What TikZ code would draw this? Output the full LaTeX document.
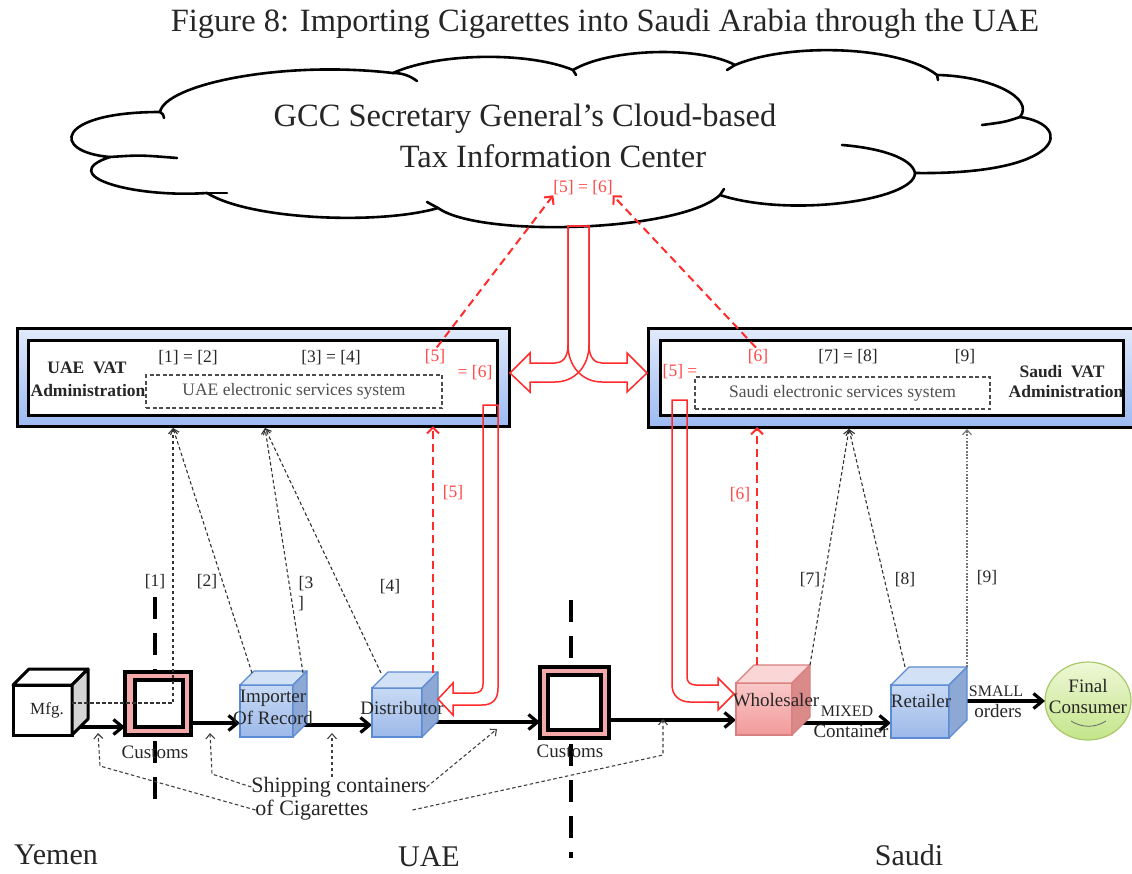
\documentclass[tikz,border=0pt]{standalone}
\usepackage{fontspec}
\setmainfont{Liberation Serif}
\usetikzlibrary{arrows.meta,shapes.geometric}

\definecolor{inktext}{HTML}{262626}
\definecolor{systext}{HTML}{505050}
\definecolor{vatred}{HTML}{FF2B2B}
\definecolor{vatredtext}{HTML}{FF4848}
\definecolor{paneltop}{HTML}{E1EAFB}
\definecolor{panelbottom}{HTML}{9CBAF2}
\definecolor{customspink}{HTML}{F3A9A9}
\definecolor{bluefronttop}{HTML}{C8DAF4}
\definecolor{bluefrontbottom}{HTML}{9DB9EA}
\definecolor{bluetop}{HTML}{D3E1F7}
\definecolor{blueside}{HTML}{8EA8D6}
\definecolor{blueedge}{HTML}{5B8BD2}
\definecolor{pinkfronttop}{HTML}{FAC8C8}
\definecolor{pinkfrontbottom}{HTML}{F19A9A}
\definecolor{pinktop}{HTML}{FBD6D6}
\definecolor{pinkside}{HTML}{DB8A8A}
\definecolor{pinkedge}{HTML}{D98080}
\definecolor{greentop}{HTML}{EEF8D6}
\definecolor{greenbottom}{HTML}{C4E58A}
\definecolor{greenedge}{HTML}{A9C96A}
\definecolor{mfgside}{HTML}{D4D4D4}

\newcommand\titlesize{\fontsize{32.5}{36}\selectfont}
\newcommand\bracketsize{\fontsize{17.5}{19}\selectfont}
\newcommand\systemsize{\fontsize{17.5}{20}\selectfont}
\newcommand\adminsize{\fontsize{17.5}{19}\selectfont\bfseries}
\newcommand\cubesize{\fontsize{19}{21}\selectfont}
\newcommand\capsize{\fontsize{16}{18}\selectfont}
\newcommand\shipsize{\fontsize{22}{25}\selectfont}
\newcommand\countrysize{\fontsize{30}{34}\selectfont}

% top and side faces of a box-shaped node (front face = the node)
\newcommand\cubefaces[5]{%
  \filldraw[#5,fill=#3] (#1.north west) -- ([shift={(#2,-#2)}]#1.north west)
    -- ([shift={(#2,-#2)}]#1.north east) -- (#1.north east) -- cycle;
  \filldraw[#5,fill=#4] (#1.north east) -- ([shift={(#2,-#2)}]#1.north east)
    -- ([shift={(#2,-#2)}]#1.south east) -- (#1.south east) -- cycle;}

\begin{document}
\begin{tikzpicture}[x=1pt,y=-1pt,
  every node/.style={inner sep=0pt,outer sep=0pt},
  lbl/.style={font=\bracketsize,text=inktext},
  redlbl/.style={font=\bracketsize,text=vatredtext},
  panel/.style={rectangle,draw=black,line width=3pt,top color=paneltop,bottom color=panelbottom},
  panelin/.style={rectangle,draw=black,line width=3pt,fill=white},
  sysbox/.style={rectangle,draw=black!70,dash pattern=on 4pt off 2.5pt,line width=1.1pt,font=\systemsize,text=systext},
  adminname/.style={font=\adminsize,text=black!85},
  bluecube/.style={rectangle,draw=blueedge,line width=1.2pt,top color=bluefronttop,bottom color=bluefrontbottom},
  bluefaces/.style={draw=blueedge,line width=1.2pt,line join=round},
  pinkcube/.style={rectangle,draw=pinkedge,line width=1.2pt,top color=pinkfronttop,bottom color=pinkfrontbottom},
  pinkfaces/.style={draw=pinkedge,line width=1.2pt,line join=round},
  mfgcube/.style={rectangle,draw=black,line width=3pt,fill=white},
  mfgfaces/.style={draw=black,line width=3pt,line join=round},
  customsouter/.style={rectangle,draw=black,line width=3.2pt,fill=customspink},
  customsinner/.style={rectangle,draw=black,line width=3.2pt,fill=white},
  cubelbl/.style={font=\cubesize,text=inktext},
  flow/.style={draw=black,line width=3.2pt,-{Straight Barb[length=9pt,width=15pt]}},
  infolink/.style={draw=black!80,line width=1.1pt,dash pattern=on 3.5pt off 2.5pt,-{Straight Barb[length=5pt,width=9pt]}},
  reportlink/.style={draw=vatred,line width=2pt,dash pattern=on 8pt off 5pt,-{Straight Barb[length=6pt,width=12pt]}},
  shiplink/.style={draw=black!75,line width=1.1pt,dash pattern=on 3.5pt off 2.5pt,-{Straight Barb[length=5pt,width=9pt]}},
  border/.style={draw=black,line width=3.8pt,dash pattern=on 22pt off 14pt},
  hollow/.style={draw=vatred,line width=1.5pt,line join=miter},
  cloudline/.style={draw=black,line width=2.6pt,line cap=round,line join=round}]

\useasboundingbox (0,0) rectangle (1132,873);
\clip (0,0) rectangle (1132,873);

% ---------- title ----------
\node[font=\titlesize,text=inktext] (title) at (605,24)
  {Figure 8: Importing Cigarettes into Saudi Arabia through the UAE};

% ---------- cloud ----------
\draw[cloudline,fill=white] (160,112)
  .. controls (165,85) and (280,60) .. (393,73)
  .. controls (440,52) and (530,52) .. (573,70)
  .. controls (610,48) and (700,46) .. (735,65)
  .. controls (790,42) and (900,46) .. (937,75)
  .. controls (990,76) and (1035,98) .. (1020,117)
  .. controls (1075,125) and (1065,175) .. (915,173)
  .. controls (915,200) and (790,218) .. (720,195)
  .. controls (680,232) and (480,238) .. (438,208)
  .. controls (380,225) and (250,220) .. (207,193)
  .. controls (130,198) and (55,175) .. (110,157)
  .. controls (50,152) and (55,112) .. (160,112) -- cycle;
\draw[cloudline] (393,73) .. controls (403,73) and (410,76) .. (417,81);
\draw[cloudline] (573,70) -- (576,75);
\draw[cloudline] (735,65) -- (727,70);
\draw[cloudline] (937,75) -- (938,80);
\draw[cloudline] (1020,117) .. controls (1005,122) .. (982,125);
\draw[cloudline] (915,173) .. controls (912,158) and (880,148) .. (842,145);
\draw[cloudline] (720,195) -- (724,189);
\draw[cloudline] (438,208) -- (427,202);
\draw[cloudline] (207,193) .. controls (212,193) .. (227,193);
\draw[cloudline] (110,157) .. controls (140,155) .. (177,158);
\draw[cloudline] (160,112) .. controls (163,114) .. (164,118);

\node[font=\titlesize,text=inktext] (gccA) at (525,119) {GCC Secretary General’s Cloud-based};
\node[font=\titlesize,text=inktext] (gccB) at (553,156) {Tax Information Center};
\node[redlbl] (shared) at (583,188) {[5] = [6]};

% ---------- VAT administrations ----------
\node[panel,minimum width=492,minimum height=98] (uaePanel) at (263,377) {};
\node[panelin,minimum width=469,minimum height=75] (uaeInner) at (262.5,377.5) {};
\node[panel,minimum width=502,minimum height=99] (saPanel) at (899,377.5) {};
\node[panelin,minimum width=463,minimum height=75] (saInner) at (891.5,377.5) {};

\node[adminname] (uaeNameA) at (87,368) {UAE\ \ VAT};
\node[adminname] (uaeNameB) at (88,391) {Administration};
\node[sysbox,minimum width=296,minimum height=33] (uaeSys) at (294,391.5) {UAE electronic services system};
\node[lbl] (l12) at (188,358) {[1] = [2]};
\node[lbl] (l34) at (331,358) {[3] = [4]};
\node[redlbl] (u5) at (435,357) {[5]};
\node[redlbl] (u6) at (475,373) {= [6]};

\node[redlbl] (s6) at (758,357) {[6]};
\node[lbl] (l78) at (848,357) {[7] = [8]};
\node[lbl] (l9) at (965,357) {[9]};
\node[redlbl] (s5) at (680,372) {[5] =};
\node[sysbox,minimum width=295,minimum height=32] (saSys) at (842.5,393) {Saudi electronic services system};
\node[adminname] (saNameA) at (1062,372) {Saudi\ \ VAT};
\node[adminname] (saNameB) at (1066,392) {Administration};

% reports sent up to the cloud
\draw[reportlink,shorten <=3pt] (u5.north) -- (shared.south west);
\draw[reportlink,shorten <=3pt] (s6.north) -- (shared.south east);

% cloud shares data with both administrations
\draw[hollow] (568,226) -- (568,345) .. controls (568,358) and (562,363) .. (555,363)
  -- (530,363) -- (530,353) -- (510,373) -- (530,392) -- (530,382) -- (555,382)
  .. controls (575,382) and (589,366) .. (589,345) -- (589,226) -- cycle;
\draw[hollow] (589,226) -- (589,345) .. controls (589,358) and (595,363) .. (602,363)
  -- (627,363) -- (627,353) -- (647,373) -- (627,392) -- (627,382) -- (602,382)
  .. controls (582,382) and (568,366) .. (568,345) -- (568,226) -- cycle;

% ---------- borders ----------
\draw[border] (155,597) -- (155,800);
\draw[border] (571,600) -- (571,858);

% ---------- supply chain ----------
\node[mfgcube,minimum width=59,minimum height=50] (mfg) at (42.5,710) {};
\node[customsouter,minimum width=66,minimum height=63] (cust1) at (158,703.5) {};
\node[bluecube,minimum width=53,minimum height=52] (imp) at (266.5,711) {};
\node[bluecube,minimum width=50,minimum height=49] (dist) at (397,712.5) {};
\node[customsouter,minimum width=69,minimum height=71] (cust2) at (574.5,702.5) {};
\node[pinkcube,minimum width=56,minimum height=52] (whole) at (764,709) {};
\node[bluecube,minimum width=58,minimum height=53] (ret) at (920,711.5) {};
\node[ellipse,draw=greenedge,line width=1.2pt,top color=greentop,bottom color=greenbottom,
  minimum width=86,minimum height=78] (cons) at (1088,701) {};

% goods flow
\draw[flow] (mfg.east |- 0,727) -- (cust1.west |- 0,727);
\draw[flow] (cust1.east |- 0,723) -- (imp.west |- 0,723);
\draw[flow] (imp.east |- 0,725) -- (dist.west |- 0,725);
\draw[flow] (dist.east |- 0,722) -- (cust2.west |- 0,722);
\draw[flow] (cust2.east |- 0,720) -- (whole.west |- 0,720);
\draw[flow] (whole.east |- 0,723) -- (ret.west |- 0,723);
\draw[flow] (ret.east |- 0,701) -- (cons.west);

% box faces drawn over the flow lines
\node[mfgcube,minimum width=59,minimum height=50] at (mfg) {};
\cubefaces{mfg}{16}{white}{mfgside}{mfgfaces}
\node[customsouter,minimum width=66,minimum height=63] at (cust1) {};
\node[customsinner,minimum width=48,minimum height=47] (cust1in) at (159,703.5) {};
\node[bluecube,minimum width=53,minimum height=52] at (imp) {};
\cubefaces{imp}{14}{bluetop}{blueside}{bluefaces}
\node[bluecube,minimum width=50,minimum height=49] at (dist) {};
\cubefaces{dist}{16}{bluetop}{blueside}{bluefaces}
\node[customsouter,minimum width=69,minimum height=71] at (cust2) {};
\node[customsinner,minimum width=53,minimum height=55] (cust2in) at (574.5,702.5) {};
\node[pinkcube,minimum width=56,minimum height=52] at (whole) {};
\cubefaces{whole}{18}{pinktop}{pinkside}{pinkfaces}
\node[bluecube,minimum width=58,minimum height=53] at (ret) {};
\cubefaces{ret}{18}{bluetop}{blueside}{bluefaces}

\node[cubelbl,font=\fontsize{17}{19}\selectfont] (mfgL) at (47,710) {Mfg.};
\node[cubelbl] (cust1L) at (155,752) {Customs};
\node[cubelbl] (impL1) at (273,698) {Importer};
\node[cubelbl] (impL2) at (273,718) {Of Record};
\node[cubelbl] (distL) at (402,708) {Distributor};
\node[cubelbl] (cust2L) at (570,751) {Customs};
\node[cubelbl] (wholeL) at (776,700) {Wholesaler};
\node[cubelbl] (retL) at (921,701) {Retailer};
\node[cubelbl] (consL1) at (1088,686) {Final};
\node[cubelbl] (consL2) at (1088,707) {Consumer};
\draw[draw=black!60,line width=0.8pt] (1071,721) .. controls (1082,728) and (1095,728) .. (1106,721);
\node[font=\capsize,text=inktext] (mixedA) at (847,711) {MIXED};
\node[cubelbl] (mixedB) at (851,731) {Container};
\node[font=\capsize,text=inktext] (smallA) at (996,691) {SMALL};
\node[cubelbl] (smallB) at (998,711) {orders};

% ---------- information sent to the administrations ----------
\coordinate (uaeTipA) at (173,428);
\coordinate (uaeTipB) at (265,428);
\coordinate (saTipA) at (849,429);
\coordinate (saTipB) at (967,429);
\draw[infolink] (mfg.east |- 0,703) -| (uaeTipA);
\draw[infolink] ([shift={(12,-12)}]imp.north west) -- (uaeTipA);
\draw[infolink] ([shift={(10,-12)}]imp.north east) -- (uaeTipB);
\draw[infolink] ([shift={(9,-15)}]dist.north west) -- (uaeTipB);
\draw[infolink] ([shift={(18,-18)}]whole.north east) -- (saTipA);
\draw[infolink] ([shift={(14,-18)}]ret.north west) -- (saTipA);
\draw[infolink,draw=black!55,dash pattern=on 1.8pt off 1.5pt] ([shift={(18,-18)}]ret.north east) -- (saTipB);

\node[lbl] (n1) at (155,582) {[1]};
\node[lbl] (n2) at (207,582) {[2]};
\node[lbl] (n3a) at (306,584) {[3};
\node[lbl] (n3b) at (301,604) {]};
\node[lbl] (n4) at (390,587) {[4]};
\node[lbl] (n7) at (810,580) {[7]};
\node[lbl] (n8) at (905,580) {[8]};
\node[lbl] (n9) at (987,578) {[9]};

\coordinate (dist5) at ([shift={(61,-15)}]dist.north west);
\coordinate (whole6) at ([shift={(21,-18)}]whole.north west);
\draw[reportlink] (dist5) -- (dist5 |- uaePanel.south);
\draw[reportlink] (whole6) -- (whole6 |- saPanel.south);
\node[redlbl] (r5) at (453,493) {[5]};
\node[redlbl] (r6) at (740,495) {[6]};

% administrations pass the data down to the next trader
\draw[hollow] (483,405) -- (498,405) -- (498,688) .. controls (498,700) and (492,705) .. (482,705)
  -- (453,705) -- (453,715) -- (438,699) -- (453,683) -- (453,693) -- (474,693)
  .. controls (480,693) and (483,690) .. (483,684) -- cycle;
\draw[hollow] (672,400) -- (687,400) -- (687,677) .. controls (687,682) and (690,685) .. (696,685)
  -- (718,685) -- (718,678) -- (734,694) -- (718,710) -- (718,702) -- (690,702)
  .. controls (679,702) and (672,695) .. (672,685) -- cycle;

% ---------- shipping containers ----------
\node[font=\shipsize,text=inktext] (shipA) at (339,787) {Shipping containers};
\node[font=\shipsize,text=inktext] (shipB) at (312,810) {of Cigarettes};
\draw[shiplink] (shipB.west) -- (100,766) -- (98,733);
\draw[shiplink] (shipA.west) -- (212,774) -- (210,733);
\draw[shiplink] (shipA.north -| 332,0) -- (332,733);
\draw[shiplink] (shipA.east) -- (497,729);
\draw[shiplink] ([xshift=44pt]shipB.east) -- (663,755) -- (663,719);

% ---------- countries ----------
\node[font=\countrysize,text=inktext] (yemen) at (56,855) {Yemen};
\node[font=\countrysize,text=inktext] (uae) at (429,857) {UAE};
\node[font=\countrysize,text=inktext] (saudi) at (909,855) {Saudi};
\end{tikzpicture}
\end{document}
